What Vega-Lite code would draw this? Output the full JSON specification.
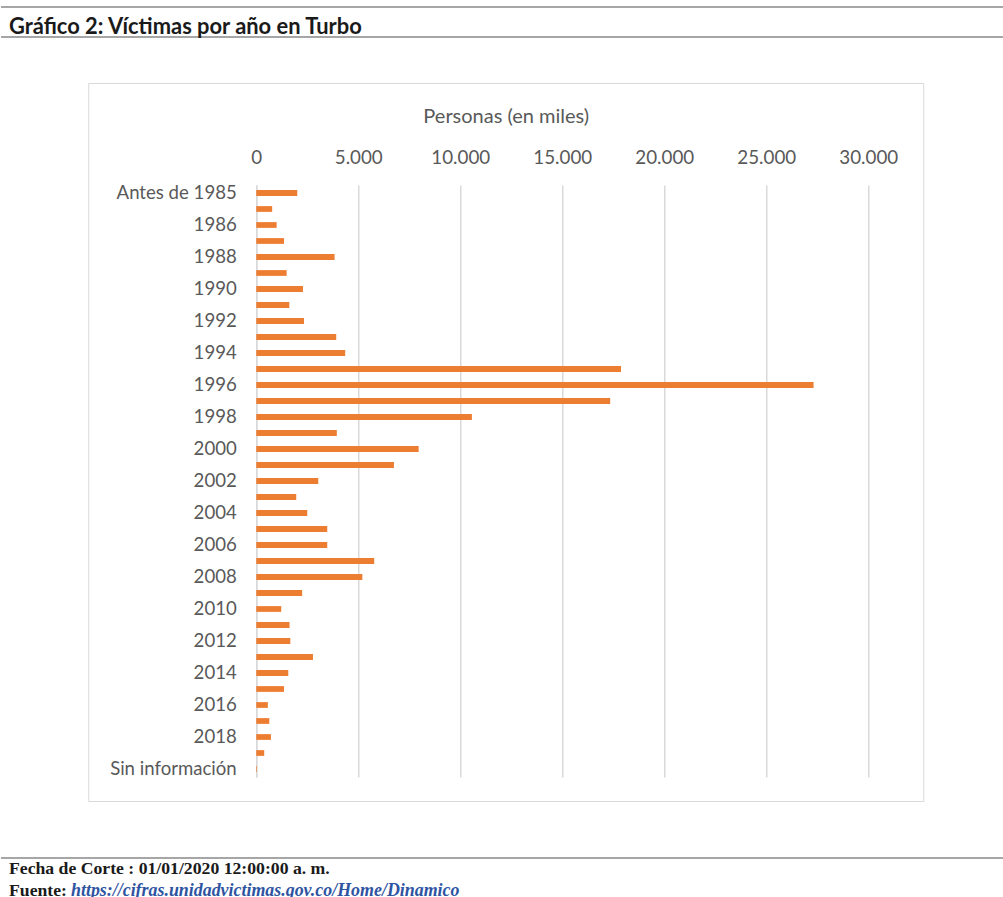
{
  "$schema": "https://vega.github.io/schema/vega-lite/v6.json",
  "background": "white",
  "padding": {"left": 0, "top": 6, "right": 0, "bottom": 0},
  "config": {"view": {"stroke": null}},
  "spacing": 19,
  "center": true,
  "vconcat": [
    {
      "width": 1009,
      "height": 56,
      "layer": [
        {
          "data": {"values": [{"p": "a"}, {"p": "b"}]},
          "mark": {"type": "rule", "color": "#a6a6a6", "strokeWidth": 2},
          "encoding": {
            "y": {"field": "p", "type": "nominal", "scale": {"type": "point", "domain": ["a", "b"], "range": [0, 30], "padding": 0}, "axis": null}
          }
        },
        {
          "data": {"values": [{"t": "Gráfico 2: Víctimas por año en Turbo"}]},
          "mark": {"type": "text", "align": "left", "baseline": "middle", "dx": 8, "font": "Lato", "fontWeight": "bold", "fontSize": 21.9, "color": "#1a1a1a"},
          "encoding": {
            "text": {"field": "t"},
            "x": {"datum": 0, "type": "quantitative", "scale": {"domain": [0, 1]}, "axis": null},
            "y": {"datum": "t", "type": "nominal", "scale": {"type": "point", "domain": ["t"], "range": [0, 40], "padding": 0}, "axis": null}
          }
        }
      ],
      "resolve": {"scale": {"y": "independent"}}
    },
    {
      "width": 835,
      "height": 718,
      "view": {"stroke": "#d9d9d9", "strokeWidth": 1},
      "data": {"values": [
        {"cat": "Antes de 1985", "v": 2010},
        {"cat": "1985", "v": 780},
        {"cat": "1986", "v": 1000},
        {"cat": "1987", "v": 1360},
        {"cat": "1988", "v": 3840},
        {"cat": "1989", "v": 1490},
        {"cat": "1990", "v": 2290},
        {"cat": "1991", "v": 1620},
        {"cat": "1992", "v": 2340},
        {"cat": "1993", "v": 3920},
        {"cat": "1994", "v": 4360},
        {"cat": "1995", "v": 17880},
        {"cat": "1996", "v": 27320},
        {"cat": "1997", "v": 17350},
        {"cat": "1998", "v": 10570},
        {"cat": "1999", "v": 3950},
        {"cat": "2000", "v": 7960},
        {"cat": "2001", "v": 6750},
        {"cat": "2002", "v": 3040},
        {"cat": "2003", "v": 1960},
        {"cat": "2004", "v": 2500},
        {"cat": "2005", "v": 3480},
        {"cat": "2006", "v": 3480},
        {"cat": "2007", "v": 5780},
        {"cat": "2008", "v": 5200},
        {"cat": "2009", "v": 2250},
        {"cat": "2010", "v": 1225},
        {"cat": "2011", "v": 1630},
        {"cat": "2012", "v": 1670},
        {"cat": "2013", "v": 2780},
        {"cat": "2014", "v": 1570},
        {"cat": "2015", "v": 1360},
        {"cat": "2016", "v": 570},
        {"cat": "2017", "v": 640},
        {"cat": "2018", "v": 720},
        {"cat": "2019", "v": 390},
        {"cat": "Sin información", "v": 30}
      ]},
      "mark": {"type": "bar", "color": "#ed7d31"},
      "encoding": {
        "y": {
          "field": "cat", "type": "nominal", "sort": null,
          "scale": {
            "domain": ["Antes de 1985", "1985", "1986", "1987", "1988", "1989", "1990", "1991", "1992", "1993", "1994", "1995", "1996", "1997", "1998", "1999", "2000", "2001", "2002", "2003", "2004", "2005", "2006", "2007", "2008", "2009", "2010", "2011", "2012", "2013", "2014", "2015", "2016", "2017", "2018", "2019", "Sin información"],
            "range": [102, 694], "paddingInner": 0.64, "paddingOuter": 0.32
          },
          "axis": {
            "orient": "left", "offset": -168,
            "values": ["Antes de 1985", "1986", "1988", "1990", "1992", "1994", "1996", "1998", "2000", "2002", "2004", "2006", "2008", "2010", "2012", "2014", "2016", "2018", "Sin información"],
            "domain": true, "domainColor": "#d9d9d9", "domainWidth": 1.5,
            "ticks": false, "grid": false, "labelPadding": 20,
            "labelFont": "Lato", "labelFontSize": 18.6, "labelColor": "#595959",
            "labelOverlap": false, "title": null
          }
        },
        "x": {
          "field": "v", "type": "quantitative",
          "scale": {"domain": [0, 30000], "range": [168, 780], "nice": false, "zero": true},
          "axis": {
            "orient": "top", "offset": -86,
            "values": [0, 5000, 10000, 15000, 20000, 25000, 30000],
            "labelExpr": "replace(format(datum.value, ','), ',', '.')",
            "domain": false, "ticks": false, "grid": true, "gridColor": "#d9d9d9", "gridWidth": 1.5,
            "labelFont": "Lato", "labelFontSize": 18.8, "labelColor": "#595959", "labelPadding": 2,
            "labelFlush": false, "labelOverlap": false,
            "title": "Personas (en miles)", "titleFont": "Lato", "titleFontSize": 20, "titleFontWeight": "normal", "titleColor": "#595959",
            "titleX": 417.5, "titleY": -53, "titleBaseline": "middle", "titleAlign": "center"
          }
        }
      }
    },
    {
      "width": 1009,
      "height": 77,
      "layer": [
        {
          "data": {"values": [{"p": "a"}]},
          "mark": {"type": "rule", "color": "#a6a6a6", "strokeWidth": 2},
          "encoding": {
            "y": {"field": "p", "type": "nominal", "scale": {"type": "point", "domain": ["a"], "range": [0, 74], "padding": 0}, "axis": null}
          }
        },
        {
          "data": {"values": [{"r": "f1", "t": "Fecha de Corte : 01/01/2020 12:00:00 a. m."}, {"r": "f2", "t": "Fuente:"}]},
          "mark": {"type": "text", "align": "left", "baseline": "middle", "dx": 8, "font": "Liberation Serif", "fontWeight": "bold", "fontSize": 17.7, "color": "#1a1a1a"},
          "encoding": {
            "text": {"field": "t"},
            "x": {"datum": 0, "type": "quantitative", "scale": {"domain": [0, 1]}, "axis": null},
            "y": {"field": "r", "type": "nominal", "scale": {"type": "point", "domain": ["f1", "f2"], "range": [48, 70], "padding": 0}, "axis": null}
          }
        },
        {
          "data": {"values": [{"r": "f2", "t": "https://cifras.unidadvictimas.gov.co/Home/Dinamico"}]},
          "mark": {"type": "text", "align": "left", "baseline": "middle", "dx": 70, "font": "Liberation Serif", "fontWeight": "bold", "fontStyle": "italic", "fontSize": 17.9, "color": "#2e54a1"},
          "encoding": {
            "text": {"field": "t"},
            "x": {"datum": 0, "type": "quantitative", "scale": {"domain": [0, 1]}, "axis": null},
            "y": {"field": "r", "type": "nominal", "scale": {"type": "point", "domain": ["f1", "f2"], "range": [48, 70], "padding": 0}, "axis": null}
          }
        }
      ],
      "resolve": {"scale": {"y": "independent"}}
    }
  ]
}
